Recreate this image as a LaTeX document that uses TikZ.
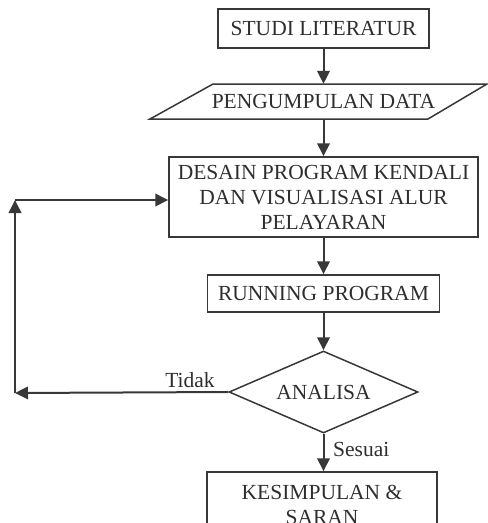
\documentclass[tikz,border=0pt]{standalone}
\usepackage{fontspec}
\setmainfont{Liberation Serif}
\usetikzlibrary{shapes.geometric,arrows.meta}
\definecolor{ink}{HTML}{2E2E2E}
\definecolor{ln}{HTML}{383838}
\begin{document}
\begin{tikzpicture}[x=1pt,y=-1pt,
  every node/.style={text=ink,font=\fontsize{21.5}{25}\selectfont},
  procbox/.style={draw=ln,line width=1.5pt,inner sep=0pt,align=center},
  flow/.style={draw=ln,line width=2pt,-{Triangle[length=13pt,width=12.5pt]}},
  lbl/.style={inner sep=0pt}]
\useasboundingbox (0,0) rectangle (488,523);
\node[procbox,minimum width=211pt,minimum height=39pt] (studi) at (323.5,28.5) {STUDI LITERATUR};
\node[inner sep=0pt,minimum height=35pt,minimum width=40pt] (peng) at (323.5,101.5) {PENGUMPULAN DATA};
\draw[ln,line width=1.5pt] (213,84) -- (487,84) -- (428,119) -- (150,119) -- cycle;
\node[procbox,minimum width=309pt,minimum height=80pt] (desain) at (323.5,197) {DESAIN PROGRAM KENDALI\\DAN VISUALISASI ALUR\\PELAYARAN};
\node[procbox,minimum width=232pt,minimum height=37pt] (run) at (323.5,293.5) {RUNNING PROGRAM};
\node[diamond,draw=ln,line width=1.5pt,inner sep=0pt,minimum width=189pt,minimum height=82pt,aspect=2.3] (ana) at (323.5,392) {ANALISA};
\node[procbox,minimum width=230pt,minimum height=66pt] (kes) at (322,505) {KESIMPULAN \&\\SARAN};
\coordinate (c1) at (15,393);
\coordinate (c2) at (15,200);
\draw[flow] (studi.south) -- (peng.north);
\draw[flow] (peng.south) -- (desain.north);
\draw[flow] (desain.south) -- (run.north);
\draw[flow] (run.south) -- (ana.north);
\draw[flow] (ana.south) -- (ana.south |- kes.north);
\draw[flow] (ana.west) -- (c1);
\draw[flow] (c1) -- (c2);
\draw[flow] (c2) -- (c2 -| desain.west);
\node[lbl,anchor=base] (tidak) at (190,387) {Tidak};
\node[lbl,anchor=base west] (sesuai) at (333,456) {Sesuai};
\end{tikzpicture}
\end{document}
